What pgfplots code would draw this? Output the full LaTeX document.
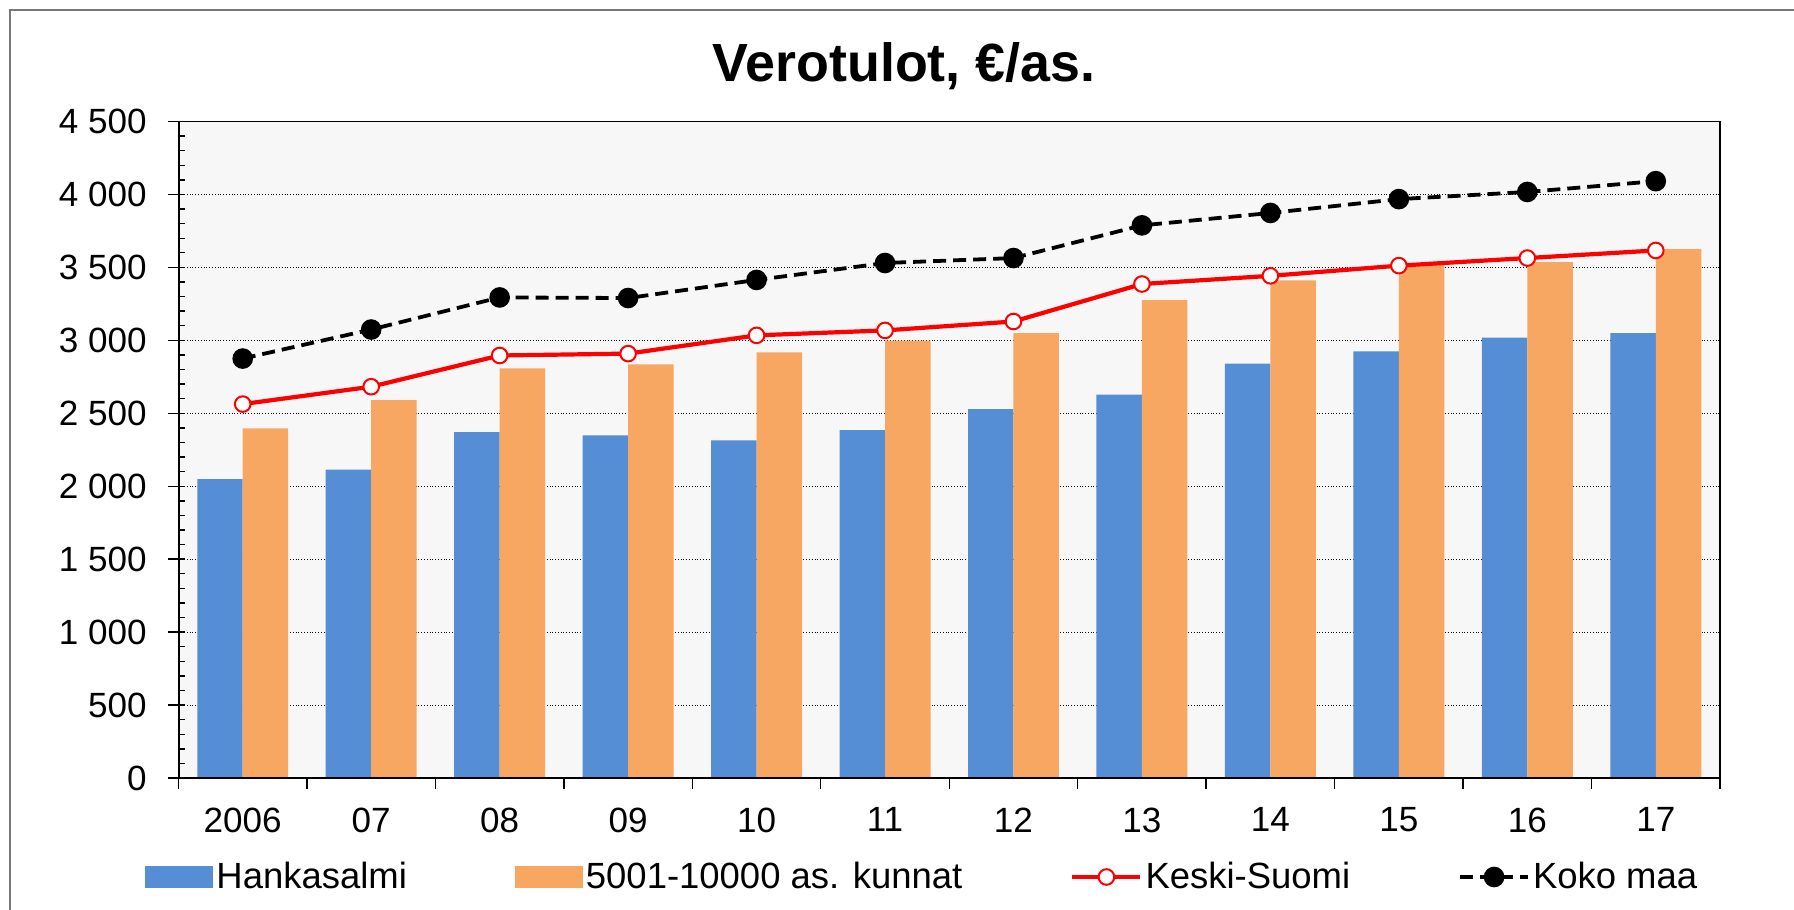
\documentclass[border=0pt]{standalone}
\usepackage{pgfplots}
\pgfplotsset{compat=1.18}
\usepackage{fontspec}
\setmainfont{Liberation Sans}
\definecolor{cblue}{RGB}{85,142,213}
\definecolor{corange}{RGB}{248,167,98}
\definecolor{bgc}{RGB}{247,247,247}
\definecolor{frame}{RGB}{120,120,120}
\pgfplotsset{
  linelegend/.style={legend image code/.code={\draw[mark repeat=2,mark phase=2,##1] plot coordinates {(0bp,0bp) (17bp,0bp) (34bp,0bp)};}},
  bluelegend/.style={legend image code/.code={\fill[cblue] (0bp,-5.5bp) rectangle (34bp,5.5bp);}},
  orangelegend/.style={legend image code/.code={\fill[corange] (0bp,-5.5bp) rectangle (34bp,5.5bp);}},
}
\begin{document}
\begin{tikzpicture}
\useasboundingbox (0,0) rectangle (897bp,455bp);
\draw[line width=0.75bp, frame] (5bp,0) -- (5bp,450bp) -- (897bp,450bp);
\node[font=\bfseries\fontsize{27}{32}\selectfont, anchor=base] at (452bp,414bp) {Verotulot, €/as.};
\begin{axis}[
  at={(89.25bp,66bp)}, anchor=south west,
  width=770.75bp, height=328.25bp, scale only axis,
  xmin=-0.5, xmax=11.5, ymin=0, ymax=4500,
  axis background/.style={fill=bgc},
  axis line style={black, line width=0.9bp},
  tick align=outside,
  xtick pos=bottom, ytick pos=left,
  xtick={-0.5,0.5,...,11.5},
  x tick label as interval,
  xticklabels={2006,07,08,09,10,11,12,13,14,15,16,17},
  ytick={0,500,...,4500},
  yticklabels={0,500,1 000,1 500,2 000,2 500,3 000,3 500,4 000,4 500},
  major tick length=5.3bp,
  tick style={black, line width=0.7bp},
  extra y ticks={0,100,...,4500},
  extra y tick labels={},
  extra y tick style={tick align=inside, major tick length=3.3bp, grid=none},
  ymajorgrids,
  major grid style={black, densely dotted, line width=0.45bp},
  tick label style={font=\fontsize{17.6}{20}\selectfont},
  yticklabel style={anchor=east, inner sep=0pt, xshift=-10.4bp},
  xticklabel style={anchor=north, inner sep=0pt, yshift=-9.3bp},
  legend style={draw=none, fill=none, at={(-0.0217,-0.1508)}, anchor=west,
    inner sep=0pt, font=\fontsize{18.3}{21}\selectfont, nodes={inner sep=1.5bp},
    /tikz/every even column/.append style={column sep=52.5bp}},
  legend columns=4,
  legend cell align=left,
]
\addplot[ybar, bar width=0.354, bar shift=-0.177, fill=cblue, draw=none, bluelegend]
  coordinates {(0,2048) (1,2113) (2,2370) (3,2348) (4,2315) (5,2385) (6,2529) (7,2627) (8,2841) (9,2924) (10,3019) (11,3050)};
\addlegendentry{Hankasalmi}
\addplot[ybar, bar width=0.354, bar shift=0.177, fill=corange, draw=none, orangelegend]
  coordinates {(0,2397) (1,2590) (2,2808) (3,2835) (4,2918) (5,2998) (6,3050) (7,3276) (8,3411) (9,3515) (10,3536) (11,3625)};
\addlegendentry{5001-10000 as. kunnat}
\addplot[red, line width=2.1bp, mark=*, mark size=3.9bp,
  mark options={solid, fill=white, draw=red, line width=1bp}, linelegend]
  coordinates {(0,2563) (1,2682) (2,2896) (3,2909) (4,3034) (5,3068) (6,3129) (7,3386) (8,3442) (9,3512) (10,3564) (11,3616)};
\addlegendentry{Keski-Suomi}
\addplot[black, line width=1.9bp, dash pattern=on 6.5bp off 3.5bp, mark=*, mark size=4.2bp,
  mark options={solid, fill=black}, linelegend]
  coordinates {(0,2875) (1,3074) (2,3294) (3,3290) (4,3414) (5,3530) (6,3564) (7,3788) (8,3873) (9,3968) (10,4017) (11,4091)};
\addlegendentry{Koko maa}
\draw[black, line width=1.4bp] (rel axis cs:0,1) -- (rel axis cs:0,0) -- (rel axis cs:1,0);
\end{axis}
\end{tikzpicture}
\end{document}
